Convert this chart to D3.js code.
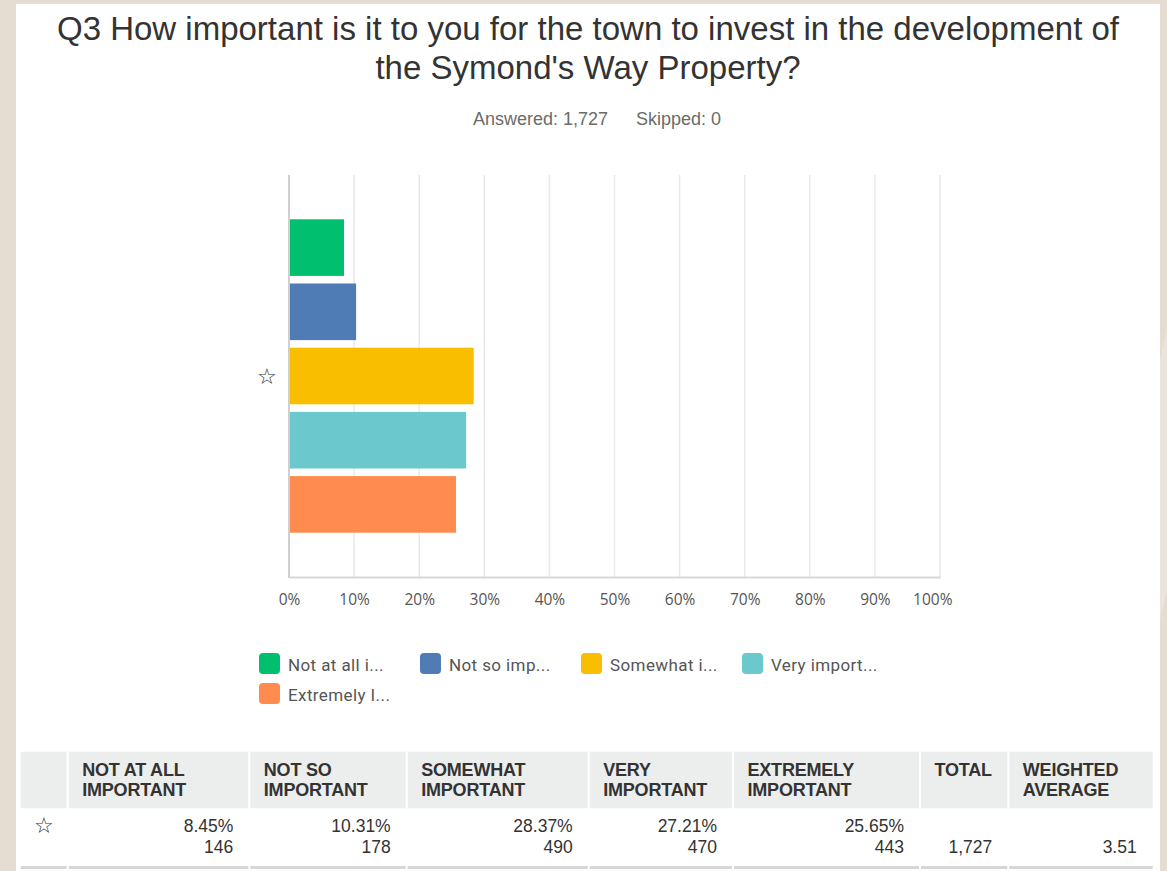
<!DOCTYPE html>
<html>
<head>
<meta charset="utf-8">
<script src="https://cdn.jsdelivr.net/npm/d3@7"></script>
<style>
  html, body { margin: 0; padding: 0; background: #e5dcd2; }
  svg { display: block; }
</style>
</head>
<body>
<svg id="chart" width="1167" height="871"></svg>
<script>
// survey answers, in display order
const categories = ['Not at all important', 'Not so important', 'Somewhat important', 'Very important', 'Extremely important'];
const legendLabels = ['Not at all i...', 'Not so imp...', 'Somewhat i...', 'Very import...', 'Extremely I...'];
const percents = [8.45, 10.31, 28.37, 27.21, 25.65];
const counts = [146, 178, 490, 470, 443];
const colors = ['#00bf6f', '#507cb6', '#f9be00', '#6bc8cd', '#ff8b4f'];
const xTicks = [0, 10, 20, 30, 40, 50, 60, 70, 80, 90, 100];
const headers = [['NOT AT ALL', 'IMPORTANT'], ['NOT SO', 'IMPORTANT'], ['SOMEWHAT', 'IMPORTANT'], ['VERY', 'IMPORTANT'], ['EXTREMELY', 'IMPORTANT'], ['TOTAL'], ['WEIGHTED', 'AVERAGE']];
const total = '1,727';
const weightedAverage = '3.51';
const titleLines = ['Q3 How important is it to you for the town to invest in the development of', "the Symond's Way Property?"];
const answered = 'Answered: 1,727';
const skipped = 'Skipped: 0';

const svg = d3.select('#chart');

// page + white card
svg.append('rect').attr('width', 1167).attr('height', 871).attr('fill', '#e5dcd2');
svg.append('path')
  .attr('d', 'M1167,330 L1160,360 L1160,620 L1167,590 Z')
  .attr('fill', '#ebe4dc');
svg.append('rect').attr('x', 16).attr('y', 4).attr('width', 1144).attr('height', 867).attr('fill', '#fff');

// title
svg.append('g').selectAll('text').data(titleLines).join('text')
  .attr('x', 588)
  .attr('y', (d, i) => 40 + i * 38.5)
  .attr('text-anchor', 'middle')
  .attr('font-family', 'Liberation Sans, Arial, sans-serif')
  .attr('font-size', 33)
  .attr('fill', '#333')
  .text(d => d);

const sub = svg.append('g')
  .attr('font-family', 'Liberation Sans, Arial, sans-serif')
  .attr('font-size', 18)
  .attr('fill', '#6b6b6b');
sub.append('text').attr('x', 473).attr('y', 125).text(answered);
sub.append('text').attr('x', 636).attr('y', 125).text(skipped);

// chart
const plot = { left: 289, right: 940, top: 175, bottom: 577 };
const x = d3.scaleLinear().domain([0, 100]).range([plot.left, plot.right]);
const y = d3.scaleBand().domain(categories)
  .range([plot.top, plot.bottom])
  .paddingInner(0.118)
  .paddingOuter(0.69);

svg.append('g').selectAll('line').data(xTicks.slice(1)).join('line')
  .attr('x1', d => x(d)).attr('x2', d => x(d))
  .attr('y1', plot.top).attr('y2', plot.bottom)
  .attr('stroke', '#e9e9e9').attr('stroke-width', 1.5);

svg.append('g').selectAll('rect').data(categories).join('rect')
  .attr('x', x(0))
  .attr('y', d => y(d))
  .attr('width', (d, i) => x(percents[i]) - x(0))
  .attr('height', y.bandwidth())
  .attr('fill', (d, i) => colors[i]);

// axis lines
svg.append('line')
  .attr('x1', plot.left).attr('x2', plot.left)
  .attr('y1', plot.top).attr('y2', plot.bottom + 1)
  .attr('stroke', '#cfcfcf').attr('stroke-width', 2);

const xAxis = svg.append('g')
  .attr('transform', `translate(0,${plot.bottom})`)
  .call(d3.axisBottom(x).tickValues(xTicks).tickSize(0).tickPadding(17).tickFormat(d => d + '%'));
xAxis.select('.domain').attr('stroke', '#d8d8d8').attr('stroke-width', 2);
xAxis.selectAll('text')
  .attr('font-family', 'Open Sans, sans-serif')
  .attr('font-size', 15.5)
  .attr('fill', '#555');
// last label is pulled inside the card edge
xAxis.selectAll('.tick').filter(d => d === 100).select('text')
  .attr('text-anchor', 'end').attr('x', 12);

svg.append('text')
  .attr('x', 267).attr('y', y(categories[2]) + y.bandwidth() / 2)
  .attr('dy', '0.35em')
  .attr('text-anchor', 'middle')
  .attr('font-size', 22)
  .attr('fill', '#333')
  .text('\u2606');

// legend
const legend = svg.append('g')
  .selectAll('g').data(legendLabels).join('g')
  .attr('transform', (d, i) => `translate(${259 + (i % 4) * 161},${653 + Math.floor(i / 4) * 30})`);
legend.append('rect')
  .attr('width', 21).attr('height', 21).attr('rx', 4)
  .attr('fill', (d, i) => colors[i]);
legend.append('text')
  .attr('x', 29).attr('y', 12).attr('dy', '0.35em')
  .attr('font-family', 'Roboto, sans-serif')
  .attr('font-size', 17)
  .attr('letter-spacing', 0.4)
  .attr('fill', '#555')
  .text(d => d);

// summary table
const cols = [20.7, 67.7, 249.3, 406.7, 588.7, 733, 920, 1008.3, 1152.7];
const headTop = 751.7;
const headBottom = 808.3;
const table = svg.append('g');
table.append('rect')
  .attr('x', cols[0]).attr('y', headTop)
  .attr('width', cols[cols.length - 1] - cols[0]).attr('height', headBottom - headTop)
  .attr('fill', '#eceeed');
table.append('rect')
  .attr('x', cols[0]).attr('y', 866)
  .attr('width', cols[cols.length - 1] - cols[0]).attr('height', 3)
  .attr('fill', '#d6d6d6');
table.selectAll('line.sep').data(cols.slice(1, -1)).join('line')
  .attr('class', 'sep')
  .attr('x1', d => d).attr('x2', d => d)
  .attr('y1', headTop).attr('y2', 871)
  .attr('stroke', '#fff').attr('stroke-width', 2);

const head = table.selectAll('text.head').data(headers).join('text')
  .attr('class', 'head')
  .attr('x', (d, i) => cols[i + 1] + 14.5)
  .attr('y', 775.7)
  .attr('font-family', 'Liberation Sans, Arial, sans-serif')
  .attr('font-weight', 'bold')
  .attr('font-size', 18)
  .attr('letter-spacing', -0.2)
  .attr('fill', '#333');
head.selectAll('tspan').data(d => d).join('tspan')
  .attr('x', function () { return d3.select(this.parentNode).attr('x'); })
  .attr('dy', (d, i) => i === 0 ? 0 : 20)
  .text(d => d);

const cellText = (xr, yy, t) => table.append('text')
  .attr('x', xr).attr('y', yy)
  .attr('text-anchor', 'end')
  .attr('font-family', 'Liberation Sans, Arial, sans-serif')
  .attr('font-size', 17.5)
  .attr('fill', '#333')
  .text(t);

percents.forEach((p, i) => {
  cellText(cols[i + 2] - 16, 832.3, p.toFixed(2) + '%');
  cellText(cols[i + 2] - 16, 853.3, counts[i]);
});
cellText(cols[7] - 16, 853.3, total);
cellText(cols[8] - 16, 853.3, weightedAverage);

table.append('text')
  .attr('x', 43.5).attr('y', 825).attr('dy', '0.35em')
  .attr('text-anchor', 'middle')
  .attr('font-size', 22)
  .attr('fill', '#333')
  .text('\u2606');
</script>
</body>
</html>
